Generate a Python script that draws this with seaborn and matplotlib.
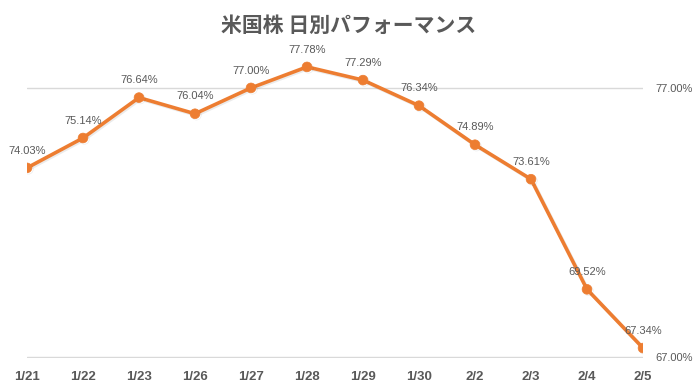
import matplotlib
matplotlib.use("Agg")
import matplotlib.pyplot as plt
import matplotlib.patheffects as pe
import seaborn as sns
import numpy as np
import pandas as pd

dates = ["1/21", "1/22", "1/23", "1/26", "1/27", "1/28", "1/29", "1/30", "2/2", "2/3", "2/4", "2/5"]
values = [74.03, 75.14, 76.64, 76.04, 77.00, 77.78, 77.29, 76.34, 74.89, 73.61, 69.52, 67.34]
ytick_vals = [67.0, 77.0]
title = "米国株 日別パフォーマンス"

sns.set_theme(style="white")
plt.rcParams['font.family'] = ['Liberation Sans', 'DejaVu Sans']

df = pd.DataFrame({"idx": np.arange(len(dates)), "val": values})

fig = plt.figure(figsize=(6.98, 3.92), dpi=100)
ax = fig.add_axes([27 / 698, 34 / 392, 616 / 698, 308 / 392])

gray = "#595959"
orange = "#ED7D31"

sns.lineplot(data=df, x="idx", y="val", ax=ax, color=orange, linewidth=2.6,
             marker="o", markersize=7, markeredgecolor=orange, markeredgewidth=0.5, sort=False,
             path_effects=[pe.SimpleLineShadow(offset=(1, -1), alpha=0.08, shadow_color="black"), pe.Normal()])

ax.set_xlim(0, len(dates) - 1)
ax.set_ylim(66.97, 77 + 38 / 27)
for s in ax.spines.values():
    s.set_visible(False)

ax.set_xticks(np.arange(len(dates)))
ax.set_xticklabels(dates, fontweight="bold", color=gray, fontsize=9.5)
ax.yaxis.tick_right()
ax.set_yticks(ytick_vals)
ax.set_yticklabels([f"{v:.2f}%" for v in ytick_vals], color=gray, fontsize=8)
ax.tick_params(axis="x", length=0, pad=9)
ax.tick_params(axis="y", length=0, pad=9)
ax.grid(axis="y", color="#D9D9D9", linewidth=1)
ax.grid(axis="x", visible=False)
ax.set_axisbelow(True)
ax.set_xlabel("")
ax.set_ylabel("")

for i, v in enumerate(values):
    ax.annotate(f"{v:.2f}%", (i, v), xytext=(0, 12.5), textcoords="offset points",
                ha="center", va="center", color=gray, fontsize=8)

fig.text(0.5, 1 - 25 / 392, title, ha="center", va="center", fontsize=15,
         fontweight="bold", color=gray, family=["Noto Sans CJK JP", "DejaVu Sans"])

fig.savefig("out.png", dpi=100)
